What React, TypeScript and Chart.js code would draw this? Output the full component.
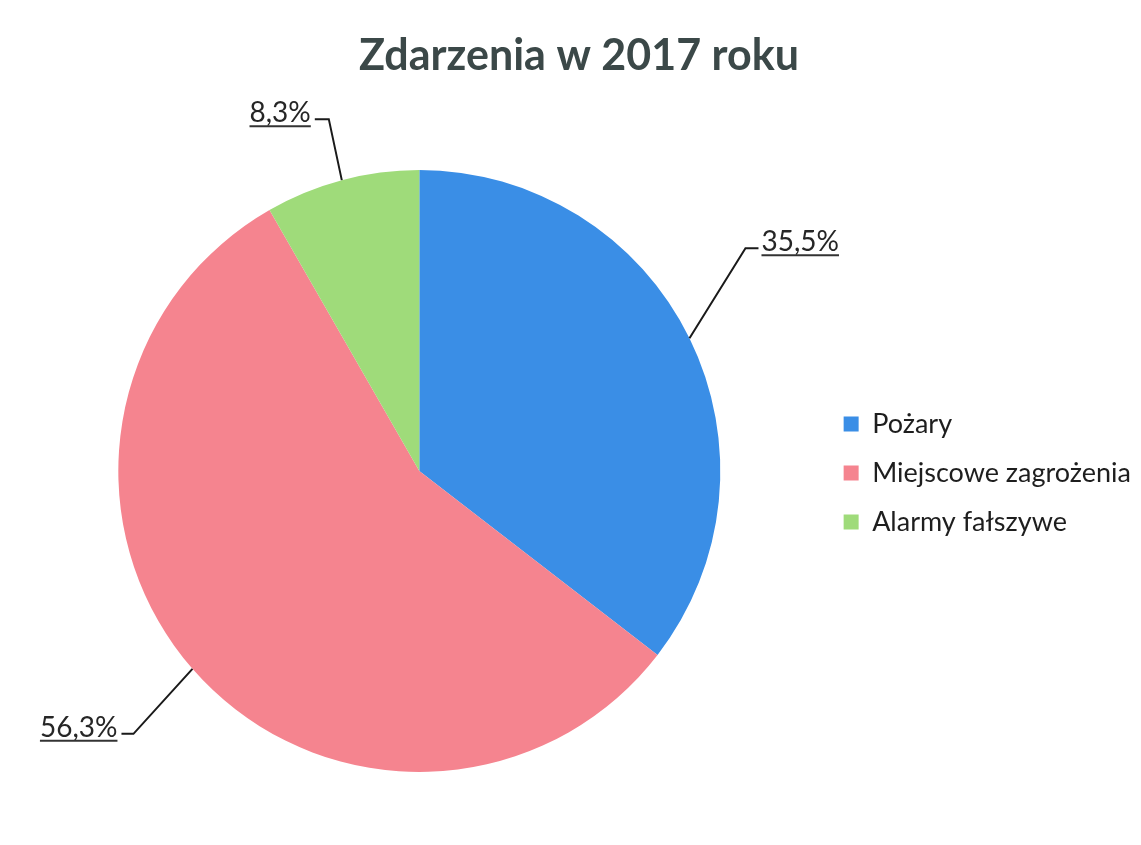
import React, { useEffect, useRef } from "react";
import { Chart, registerables } from "chart.js";

Chart.register(...registerables);

const TITLE = "Zdarzenia w 2017 roku";
const CATEGORIES = ["Pożary", "Miejscowe zagrożenia", "Alarmy fałszywe"];
const VALUES = [35.5, 56.3, 8.3];
const COLORS = ["#3a8ee6", "#f5848f", "#9fdb7a"];
const FONT = "Lato, 'Open Sans', sans-serif";

// leader line style: elbow offset from slice edge, horizontal stub direction & length
const LEADERS = [
  { dx: 56, dy: -90, dir: 1, stub: 13 },
  { dx: -59, dy: 65, dir: -1, stub: 12 },
  { dx: -13, dy: -61, dir: -1, stub: 14 },
];

const fmt = (v: number) => v.toFixed(1).replace(".", ",") + "%";

const labelPlugin = {
  id: "leaderLabels",
  afterDatasetsDraw(chart: any) {
    const ctx = chart.ctx;
    const meta = chart.getDatasetMeta(0);
    ctx.save();
    meta.data.forEach((arc: any, i: number) => {
      const p = arc.getProps(["x", "y", "startAngle", "endAngle", "outerRadius"], true);
      const mid = (p.startAngle + p.endAngle) / 2;
      const sx = p.x + Math.cos(mid) * p.outerRadius;
      const sy = p.y + Math.sin(mid) * p.outerRadius;
      const L = LEADERS[i];
      const ex = sx + L.dx;
      const ey = sy + L.dy;
      const hx = ex + L.dir * L.stub;
      ctx.strokeStyle = "#1a1a1a";
      ctx.lineWidth = 2;
      ctx.beginPath();
      ctx.moveTo(sx, sy);
      ctx.lineTo(ex, ey);
      ctx.lineTo(hx, ey);
      ctx.stroke();
      const text = fmt(VALUES[i]);
      ctx.font = `28px ${FONT}`;
      ctx.fillStyle = "#262626";
      ctx.textBaseline = "alphabetic";
      const w = ctx.measureText(text).width;
      const tx = L.dir > 0 ? hx + 3 : hx - 4 - w;
      const ty = ey + 3;
      ctx.textAlign = "left";
      ctx.fillText(text, tx, ty);
      ctx.strokeStyle = "#333";
      ctx.lineWidth = 2;
      ctx.beginPath();
      ctx.moveTo(tx, ty + 4);
      ctx.lineTo(tx + w, ty + 4);
      ctx.stroke();
    });
    ctx.restore();
  },
};

export default function App() {
  const ref = useRef<HTMLCanvasElement>(null);
  useEffect(() => {
    document.body.style.margin = "0";
    const chart = new Chart(ref.current!, {
      type: "pie",
      data: {
        labels: CATEGORIES,
        datasets: [
          {
            data: VALUES,
            backgroundColor: COLORS,
            borderWidth: 0,
          },
        ],
      },
      options: {
        responsive: false,
        animation: false,
        layout: { padding: { left: 17, right: 0, top: 0, bottom: 73 } },
        plugins: {
          title: {
            display: true,
            text: TITLE,
            color: "#3b4848",
            font: { family: FONT, size: 43, weight: "bold" },
            padding: { top: 30, bottom: 88.4 },
          },
          legend: {
            position: "right",
            title: {
              display: true,
              text: " ",
              font: { family: FONT, size: 10 },
              padding: { top: 0, bottom: 162 },
            },
            labels: {
              color: "#1e1e1e",
              font: { family: FONT, size: 27 },
              boxWidth: 15,
              boxHeight: 15,
              padding: 22,
            },
          },
          tooltip: { enabled: false },
        },
      },
      plugins: [labelPlugin],
    });
    return () => chart.destroy();
  }, []);
  return (
    <div style={{ width: 1141, height: 845, background: "#fff" }}>
      <canvas ref={ref} width={1141} height={845} />
    </div>
  );
}
